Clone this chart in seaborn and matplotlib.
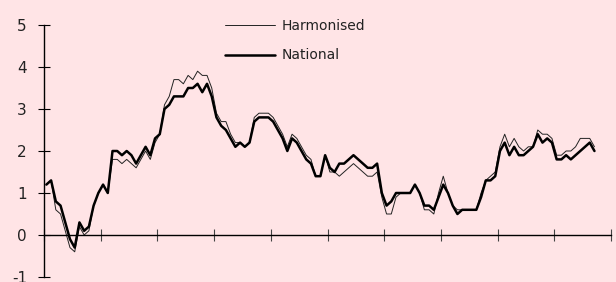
import numpy as np
import pandas as pd
import matplotlib
matplotlib.use("Agg")
import matplotlib.pyplot as plt
import seaborn as sns

# monthly inflation, %
national = [1.2, 1.3, 0.8, 0.7, 0.3, -0.1, -0.3, 0.3, 0.1, 0.2, 0.7, 1.0,
            1.2, 1.0, 2.0, 2.0, 1.9, 2.0, 1.9, 1.7, 1.9, 2.1, 1.9, 2.3,
            2.4, 3.0, 3.1, 3.3, 3.3, 3.3, 3.5, 3.5, 3.6, 3.4, 3.6, 3.3,
            2.8, 2.6, 2.5, 2.3, 2.1, 2.2, 2.1, 2.2, 2.7, 2.8, 2.8, 2.8,
            2.7, 2.5, 2.3, 2.0, 2.3, 2.2, 2.0, 1.8, 1.7, 1.4, 1.4, 1.9,
            1.6, 1.5, 1.7, 1.7, 1.8, 1.9, 1.8, 1.7, 1.6, 1.6, 1.7, 1.0,
            0.7, 0.8, 1.0, 1.0, 1.0, 1.0, 1.2, 1.0, 0.7, 0.7, 0.6, 0.9,
            1.2, 1.0, 0.7, 0.5, 0.6, 0.6, 0.6, 0.6, 0.9, 1.3, 1.3, 1.4,
            2.0, 2.2, 1.9, 2.1, 1.9, 1.9, 2.0, 2.1, 2.4, 2.2, 2.3, 2.2,
            1.8, 1.8, 1.9, 1.8, 1.9, 2.0, 2.1, 2.2, 2.0]
harmonised = [1.2, 1.3, 0.6, 0.5, 0.1, -0.3, -0.4, 0.2, 0.0, 0.1, 0.7, 1.0,
              1.2, 1.0, 1.8, 1.8, 1.7, 1.8, 1.7, 1.6, 1.8, 2.0, 1.8, 2.2,
              2.4, 3.1, 3.3, 3.7, 3.7, 3.6, 3.8, 3.7, 3.9, 3.8, 3.8, 3.5,
              2.9, 2.7, 2.7, 2.4, 2.2, 2.2, 2.1, 2.2, 2.8, 2.9, 2.9, 2.9,
              2.8, 2.6, 2.4, 2.1, 2.4, 2.3, 2.1, 1.9, 1.8, 1.4, 1.4, 1.9,
              1.5, 1.5, 1.4, 1.5, 1.6, 1.7, 1.6, 1.5, 1.4, 1.4, 1.5, 0.9,
              0.5, 0.5, 0.9, 1.0, 1.0, 1.0, 1.2, 1.0, 0.6, 0.6, 0.5, 1.0,
              1.4, 1.0, 0.7, 0.6, 0.6, 0.6, 0.6, 0.6, 1.0, 1.3, 1.4, 1.5,
              2.1, 2.4, 2.1, 2.3, 2.1, 2.0, 2.1, 2.1, 2.5, 2.4, 2.4, 2.3,
              1.9, 1.9, 2.0, 2.0, 2.1, 2.3, 2.3, 2.3, 2.1]
months = np.arange(len(national)) + 0.5
yticks = [-1, 0, 1, 2, 3, 4, 5]

bg = "#FFE4E6"
sns.set_style("white", {"axes.facecolor": bg, "figure.facecolor": bg})
plt.rcParams["font.family"] = ["DejaVu Sans"]

df = pd.DataFrame({"month": months, "Harmonised": harmonised, "National": national})

fig = plt.figure(figsize=(6.16, 2.82), dpi=100)
ax = fig.add_axes([44 / 616, 5 / 282, 567 / 616, 252 / 282])

sns.lineplot(data=df, x="month", y="Harmonised", ax=ax, color="#222222",
             linewidth=0.7, label="Harmonised")
sns.lineplot(data=df, x="month", y="National", ax=ax, color="black",
             linewidth=1.8, label="National")

ax.set_xlim(0, 120)
ax.set_ylim(-1, 5)
ax.set_xticks(range(0, 121, 12))
ax.set_xticklabels([])
ax.set_yticks(yticks)
ax.set_yticklabels([str(t) for t in yticks])
ax.set_xlabel("")
ax.set_ylabel("")

for s in ["top", "right"]:
    ax.spines[s].set_visible(False)
ax.spines["bottom"].set_position(("data", 0))
ax.spines["left"].set_color("black")
ax.spines["bottom"].set_color("black")
ax.spines["left"].set_linewidth(1.0)
ax.spines["bottom"].set_linewidth(1.0)

ax.tick_params(axis="x", bottom=True, direction="inout", length=8.5, width=0.8,
               color="#444444")
ax.tick_params(axis="y", left=True, direction="inout", length=8.5, width=0.8,
               color="black", labelsize=11, pad=8, labelcolor="#222222")

leg = ax.legend(loc="upper left", bbox_to_anchor=((226 - 44) / 567 - 0.012, 1.045),
                frameon=False, fontsize=10, handlelength=3.6, handletextpad=0.5,
                labelspacing=1.1, borderaxespad=0)
for t in leg.get_texts():
    t.set_color("#222222")

fig.savefig("out.png", dpi=100, facecolor=bg)
